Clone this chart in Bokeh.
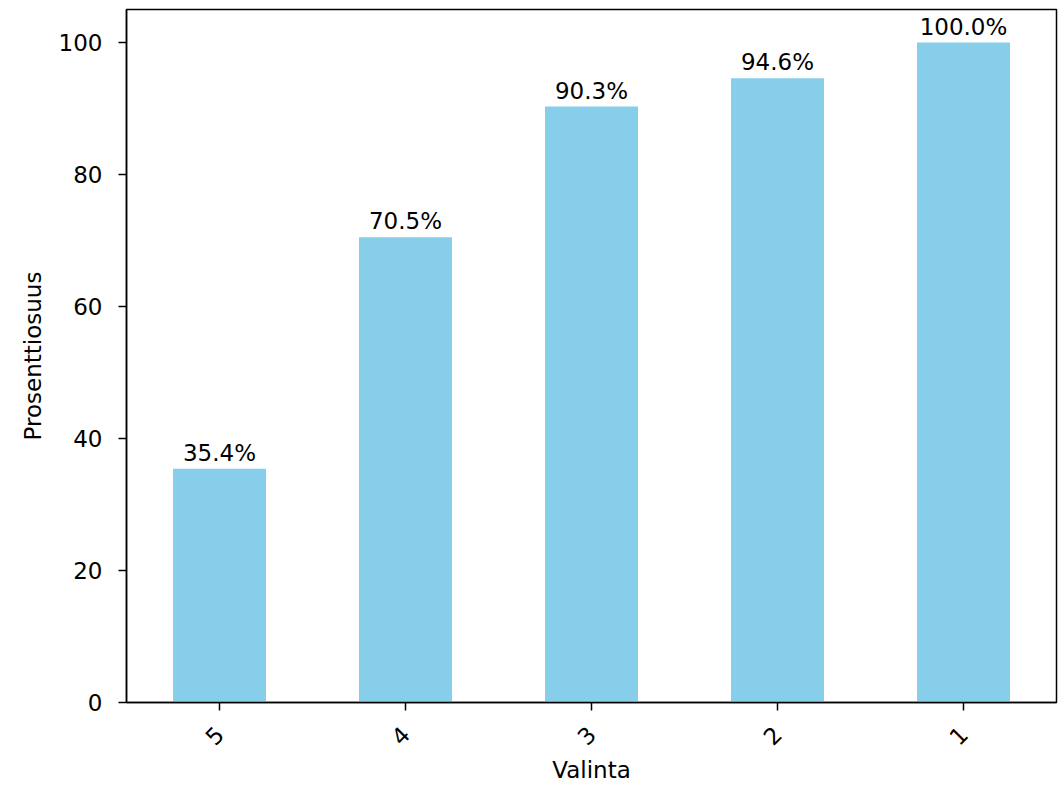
import math
from bokeh.plotting import figure
from bokeh.models import ColumnDataSource, FactorRange, Range1d, FixedTicker
from bokeh.core.properties import value
from bokeh.embed import file_html
from bokeh.resources import INLINE

categories = ["5", "4", "3", "2", "1"]
percentages = [35.4, 70.5, 90.3, 94.6, 100.0]
labels = [f"{v:.1f}%" for v in percentages]
y_ticks = [0, 20, 40, 60, 80, 100]

FONT = "DejaVu Sans"
FS = "23px"

source = ColumnDataSource(data=dict(cat=categories, pct=percentages, lbl=labels))

p = figure(
    x_range=FactorRange(*categories),
    y_range=Range1d(0, 105),
    width=1062, height=785,
    output_backend="svg", toolbar_location=None,
    min_border_left=126, min_border_right=6,
    min_border_top=9, min_border_bottom=83,
)

p.vbar(x="cat", top="pct", width=0.5, source=source,
       fill_color="#87CEEB", line_color=None)

p.text(x="cat", y="pct", text="lbl", source=source,
       text_align="center", text_baseline="bottom", y_offset=-3,
       text_font=value(FONT), text_font_size=FS, text_color="black")

p.xgrid.visible = False
p.ygrid.visible = False
p.outline_line_color = "black"
p.outline_line_width = 1.5
p.background_fill_color = "white"
p.border_fill_color = "white"

for ax in (p.xaxis[0], p.yaxis[0]):
    ax.axis_line_color = "black"
    ax.axis_line_width = 1.5
    ax.major_tick_line_color = "black"
    ax.major_tick_line_width = 1.5
    ax.major_tick_out = 8
    ax.major_tick_in = 0
    ax.minor_tick_line_color = None
    ax.major_label_text_font = FONT
    ax.major_label_text_font_size = FS
    ax.major_label_text_color = "black"
    ax.axis_label_text_font = FONT
    ax.axis_label_text_font_size = FS
    ax.axis_label_text_font_style = "normal"
    ax.axis_label_text_color = "black"

p.yaxis[0].ticker = FixedTicker(ticks=y_ticks)
p.yaxis[0].major_label_standoff = 16
p.yaxis[0].axis_label = "Prosenttiosuus"
p.yaxis[0].axis_label_standoff = 10
p.xaxis[0].axis_label = "Valinta"
p.xaxis[0].major_label_standoff = 20
p.xaxis[0].axis_label_standoff = 1
p.xaxis[0].major_label_orientation = math.pi / 4

open("out.html", "w").write(file_html(p, INLINE))
